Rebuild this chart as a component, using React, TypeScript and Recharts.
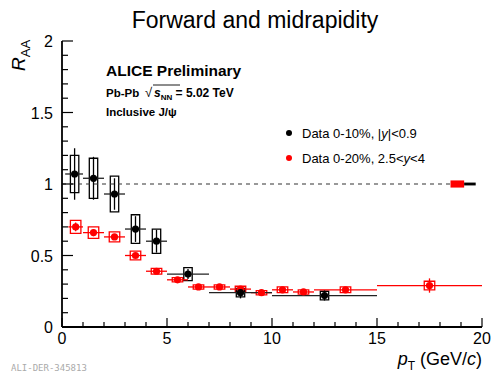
import React from "react";
import {
  ComposedChart,
  Scatter,
  XAxis,
  YAxis,
  ErrorBar,
  ReferenceArea,
  ReferenceLine,
} from "recharts";

// ---- Data ----
// Midrapidity, 0-10%, |y|<0.9 (black)
const midPt = [0.6, 1.5, 2.5, 3.5, 4.5, 6, 8.5, 12.5];
const midBinLo = [0.15, 1, 2, 3, 4, 5, 7, 10];
const midBinHi = [1, 2, 3, 4, 5, 7, 10, 15];
const midRaa = [1.07, 1.04, 0.93, 0.685, 0.6, 0.37, 0.24, 0.22];
const midStat = [0.18, 0.15, 0.11, 0.09, 0.08, 0.035, 0.04, 0.035];
const midSys = [0.13, 0.14, 0.125, 0.1, 0.085, 0.045, 0.03, 0.03];

// Forward, 0-20%, 2.5<y<4 (red)
const fwdPt = [0.65, 1.5, 2.5, 3.5, 4.5, 5.5, 6.5, 7.5, 8.5, 9.5, 10.5, 11.5, 13.5, 17.5];
const fwdBinLo = [0.3, 1, 2, 3, 4, 5, 6, 7, 8, 9, 10, 11, 12, 15];
const fwdBinHi = [1, 2, 3, 4, 5, 6, 7, 8, 9, 10, 11, 12, 15, 20];
const fwdRaa = [0.7, 0.66, 0.63, 0.5, 0.39, 0.33, 0.28, 0.28, 0.265, 0.24, 0.26, 0.245, 0.26, 0.29];
const fwdStat = [0.03, 0.025, 0.02, 0.015, 0.012, 0.01, 0.01, 0.01, 0.015, 0.012, 0.02, 0.015, 0.02, 0.05];
const fwdSys = [0.045, 0.04, 0.035, 0.03, 0.02, 0.015, 0.015, 0.015, 0.02, 0.015, 0.02, 0.015, 0.02, 0.03];

// Global (correlated) uncertainties around unity
const fwdGlobal = 0.025;
const midGlobal = 0.01;

// Axis ticks
const xTicks = [0, 1, 2, 3, 4, 5, 6, 7, 8, 9, 10, 11, 12, 13, 14, 15, 16, 17, 18, 19, 20];
const yTicks = [0, 0.1, 0.2, 0.3, 0.4, 0.5, 0.6, 0.7, 0.8, 0.9, 1, 1.1, 1.2, 1.3, 1.4, 1.5, 1.6, 1.7, 1.8, 1.9, 2];
const xMajor = [0, 5, 10, 15, 20];
const yMajor = [0, 0.5, 1, 1.5, 2];

// ---- Layout / style ----
const W = 492;
const H = 374;
const BLACK = "#000000";
const RED = "#ff0000";
const FONT = "'Liberation Sans', Arial, sans-serif";
const SYS_HW_MID = 0.2;
const SYS_HW_FWD = 0.25;

const build = (pt: number[], lo: number[], hi: number[], r: number[], st: number[], sy: number[]) =>
  pt.map((x, i) => ({
    x,
    y: r[i],
    ex: [x - lo[i], hi[i] - x],
    ey: st[i],
    sys: sy[i],
  }));

const midData = build(midPt, midBinLo, midBinHi, midRaa, midStat, midSys);
const fwdData = build(fwdPt, fwdBinLo, fwdBinHi, fwdRaa, fwdStat, fwdSys);

const isMajor = (v: number, list: number[]) => list.some((m) => Math.abs(m - v) < 1e-6);

const XTickBottom = (props: any) => {
  const { x, y, payload } = props;
  const v = payload.value;
  const major = isMajor(v, xMajor);
  return (
    <g>
      <line x1={x} x2={x} y1={y} y2={y - (major ? 9 : 5)} stroke={BLACK} strokeWidth={1.2} />
      {major && (
        <text x={x} y={y + 17} textAnchor="middle" fontSize={16} fontFamily={FONT} fill={BLACK}>
          {v}
        </text>
      )}
    </g>
  );
};

const XTickTop = (props: any) => {
  const { x, y, payload } = props;
  const major = isMajor(payload.value, xMajor);
  return <line x1={x} x2={x} y1={y} y2={y + (major ? 9 : 5)} stroke={BLACK} strokeWidth={1.2} />;
};

const YTickLeft = (props: any) => {
  const { x, y, payload } = props;
  const v = payload.value;
  const major = isMajor(v, yMajor);
  return (
    <g>
      <line x1={x} x2={x + (major ? 11 : 6)} y1={y} y2={y} stroke={BLACK} strokeWidth={1.2} />
      {major && (
        <text x={x - 9} y={y + 6} textAnchor="end" fontSize={16} fontFamily={FONT} fill={BLACK}>
          {v}
        </text>
      )}
    </g>
  );
};

const YTickRight = (props: any) => {
  const { x, y, payload } = props;
  const major = isMajor(payload.value, yMajor);
  return <line x1={x} x2={x - (major ? 11 : 6)} y1={y} y2={y} stroke={BLACK} strokeWidth={1.2} />;
};

const dot = (color: string) => (p: any) => <circle cx={p.cx} cy={p.cy} r={3.6} fill={color} stroke="none" />;

export default function App() {
  return (
    <div style={{ position: "absolute", left: 0, top: 0, width: W, height: H, background: "#fff" }}>
      <ComposedChart width={W} height={H} margin={{ top: 41, right: 10, bottom: 0, left: 0 }}>
        <XAxis
          xAxisId="b"
          type="number"
          dataKey="x"
          domain={[0, 20]}
          ticks={xTicks}
          interval={0}
          height={47}
          tickSize={0}
          tickMargin={0}
          tickLine={false}
          tick={<XTickBottom />}
          axisLine={{ stroke: BLACK, strokeWidth: 1.8 }}
          allowDataOverflow
        />
        <XAxis
          xAxisId="t"
          orientation="top"
          type="number"
          dataKey="x"
          domain={[0, 20]}
          ticks={xTicks}
          interval={0}
          height={0}
          tickSize={0}
          tickMargin={0}
          tickLine={false}
          tick={<XTickTop />}
          axisLine={{ stroke: BLACK, strokeWidth: 1.8 }}
          allowDataOverflow
        />
        <YAxis
          yAxisId="l"
          type="number"
          domain={[0, 2]}
          ticks={yTicks}
          interval={0}
          width={62}
          tickSize={0}
          tickMargin={0}
          tickLine={false}
          tick={<YTickLeft />}
          axisLine={{ stroke: BLACK, strokeWidth: 1.8 }}
          allowDataOverflow
        />
        <YAxis
          yAxisId="r"
          orientation="right"
          type="number"
          domain={[0, 2]}
          ticks={yTicks}
          interval={0}
          width={0}
          tickSize={0}
          tickMargin={0}
          tickLine={false}
          tick={<YTickRight />}
          axisLine={{ stroke: BLACK, strokeWidth: 1.8 }}
          allowDataOverflow
        />

        <ReferenceLine
          xAxisId="b"
          yAxisId="l"
          segment={[
            { x: 0, y: 1 },
            { x: 18.5, y: 1 },
          ]}
          stroke="#333"
          strokeWidth={1.2}
          strokeDasharray="4 4"
        />
        <ReferenceArea
          xAxisId="b"
          yAxisId="l"
          x1={18.5}
          x2={19.15}
          y1={1 - fwdGlobal}
          y2={1 + fwdGlobal}
          fill={RED}
          fillOpacity={1}
          stroke="none"
        />
        <ReferenceArea
          xAxisId="b"
          yAxisId="l"
          x1={19.15}
          x2={19.7}
          y1={1 - midGlobal}
          y2={1 + midGlobal}
          fill={BLACK}
          fillOpacity={1}
          stroke="none"
        />

        {fwdData.map((d, i) => (
          <ReferenceArea
            key={"fs" + i}
            xAxisId="b"
            yAxisId="l"
            x1={d.x - SYS_HW_FWD}
            x2={d.x + SYS_HW_FWD}
            y1={d.y - d.sys}
            y2={d.y + d.sys}
            fill="none"
            fillOpacity={0}
            stroke={RED}
            strokeWidth={1.3}
            strokeOpacity={1}
          />
        ))}
        {midData.map((d, i) => (
          <ReferenceArea
            key={"ms" + i}
            xAxisId="b"
            yAxisId="l"
            x1={d.x - SYS_HW_MID}
            x2={d.x + SYS_HW_MID}
            y1={d.y - d.sys}
            y2={d.y + d.sys}
            fill="none"
            fillOpacity={0}
            stroke={BLACK}
            strokeWidth={1.3}
            strokeOpacity={1}
          />
        ))}

        <Scatter
          name="Data 0-20%, 2.5<y<4"
          xAxisId="b"
          yAxisId="l"
          data={fwdData}
          dataKey="y"
          fill={RED}
          shape={dot(RED)}
          isAnimationActive={false}
        >
          <ErrorBar dataKey="ex" direction="x" width={0} stroke={RED} strokeWidth={1.3} />
          <ErrorBar dataKey="ey" direction="y" width={0} stroke={RED} strokeWidth={1.3} />
        </Scatter>
        <Scatter
          name="Data 0-10%, |y|<0.9"
          xAxisId="b"
          yAxisId="l"
          data={midData}
          dataKey="y"
          fill={BLACK}
          shape={dot(BLACK)}
          isAnimationActive={false}
        >
          <ErrorBar dataKey="ex" direction="x" width={0} stroke="#222" strokeWidth={1.3} />
          <ErrorBar dataKey="ey" direction="y" width={0} stroke={BLACK} strokeWidth={1.3} />
        </Scatter>
      </ComposedChart>

      <svg
        width={W}
        height={H}
        style={{ position: "absolute", left: 0, top: 0, pointerEvents: "none" }}
        fontFamily={FONT}
      >
        <text x={255} y={28} textAnchor="middle" fontSize={23} fill={BLACK}>
          Forward and midrapidity
        </text>
        <text transform="rotate(-90 25 71)" x={25} y={71} fontSize={19} fill={BLACK}>
          <tspan fontStyle="italic">R</tspan>
          <tspan fontSize={13} dy={5}>
            AA
          </tspan>
        </text>
        <text x={106} y={76} fontSize={15.5} fontWeight="bold" fill={BLACK}>
          ALICE Preliminary
        </text>
        <text x={106} y={97} fontSize={11.5} fontWeight="bold" fill={BLACK}>
          Pb-Pb
        </text>
        <text x={145} y={97} fontSize={13} fill={BLACK}>
          √
        </text>
        <line x1={153} x2={180} y1={85} y2={85} stroke={BLACK} strokeWidth={0.9} />
        <text x={154} y={97} fontSize={12} fontWeight="bold" fill={BLACK}>
          <tspan fontStyle="italic">s</tspan>
          <tspan fontSize={8} dy={3}>
            NN
          </tspan>
          <tspan dy={-3}> = 5.02 TeV</tspan>
        </text>
        <text x={106} y={116} fontSize={11.5} fontWeight="bold" fill={BLACK}>
          Inclusive J/ψ
        </text>

        <circle cx={289} cy={133} r={3} fill={BLACK} />
        <text x={302} y={138} fontSize={13} fill={BLACK}>
          Data 0-10%, |<tspan fontStyle="italic">y</tspan>|&lt;0.9
        </text>
        <circle cx={289} cy={158} r={3} fill={RED} />
        <text x={302} y={163} fontSize={13} fill={BLACK}>
          Data 0-20%, 2.5&lt;<tspan fontStyle="italic">y</tspan>&lt;4
        </text>

        <text x={482} y={365} textAnchor="end" fontSize={18} fill={BLACK}>
          <tspan fontStyle="italic">p</tspan>
          <tspan fontSize={12} dy={5}>
            T
          </tspan>
          <tspan dy={-5}> (GeV/</tspan>
          <tspan fontStyle="italic">c</tspan>
          <tspan>)</tspan>
        </text>
        <text x={11} y={371} fontSize={9} fontFamily="'DejaVu Sans Mono', 'Liberation Mono', monospace" fill="#aaa">
          ALI-DER-345813
        </text>
      </svg>
    </div>
  );
}
